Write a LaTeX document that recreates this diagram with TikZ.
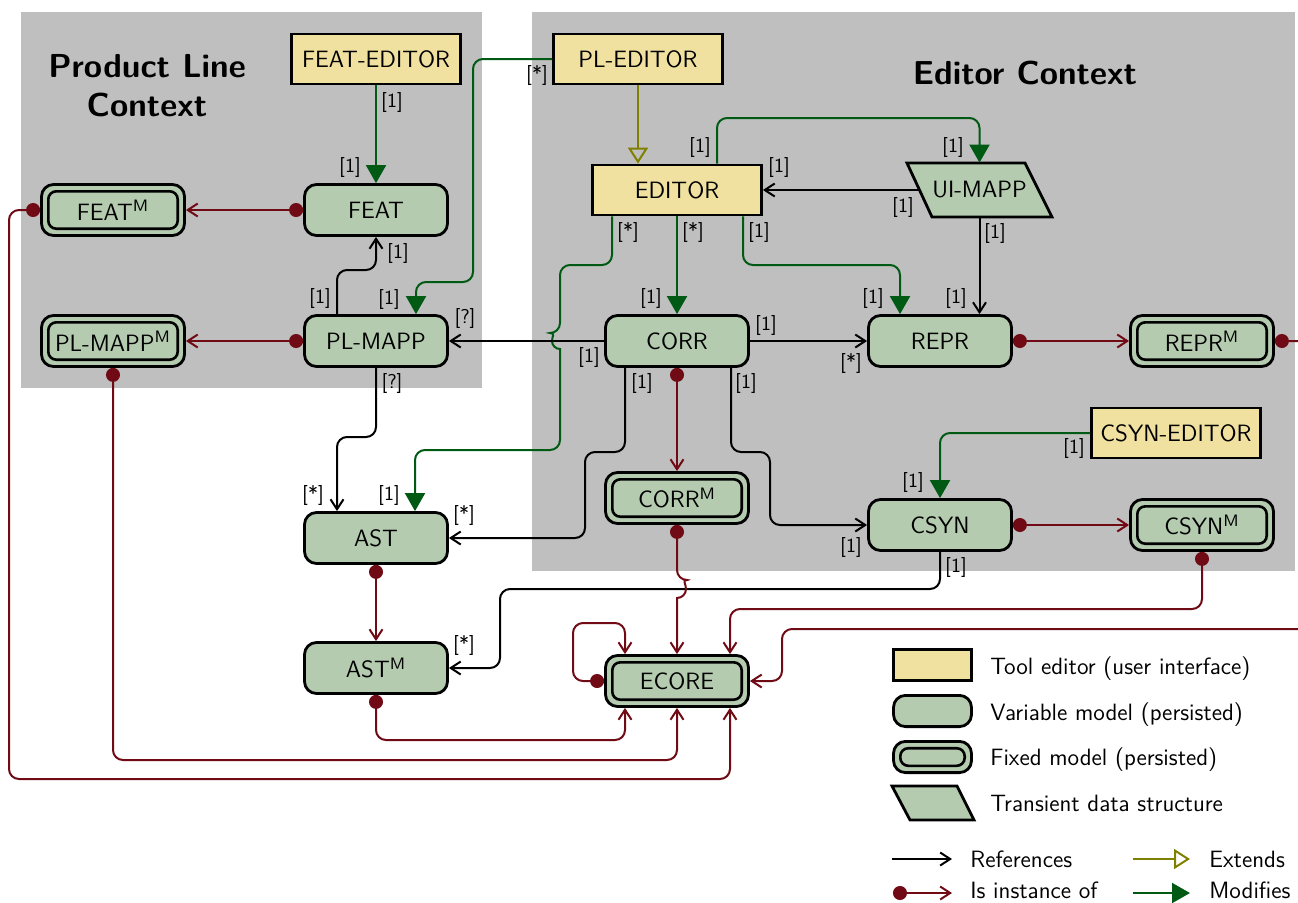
\documentclass[tikz,border=0pt]{standalone}
\usetikzlibrary{arrows.meta,calc}
\definecolor{edfill}{RGB}{240,225,160}
\definecolor{mdfill}{RGB}{180,203,176}
\definecolor{ctxgray}{RGB}{191,191,191}
\definecolor{instred}{RGB}{112,10,20}
\definecolor{modgreen}{RGB}{0,90,20}
\definecolor{extolive}{RGB}{128,128,0}
\tikzset{
  editor/.style={draw, line width=1.4pt, fill=edfill, minimum width=84.5pt, minimum height=25pt, inner sep=0pt},
  model/.style={draw, line width=1.4pt, fill=mdfill, rounded corners=6pt, minimum width=71.5pt, minimum height=25.5pt, inner sep=0pt},
  fixedm/.style={model, path picture={\draw[line width=1.3pt, rounded corners=4pt]
      ([shift={(3.4pt,3.4pt)}]path picture bounding box.south west) rectangle
      ([shift={(-3.4pt,-3.4pt)}]path picture bounding box.north east);}},
  transient/.style={draw, line width=1.4pt, fill=mdfill},
  lbl/.style={font=\sffamily\fontsize{10}{12}\selectfont, inner sep=0pt},
  ctxtitle/.style={font=\sffamily\bfseries\fontsize{16.6}{19.5}\selectfont, align=center, inner sep=0pt},
  lgtext/.style={anchor=base west, inner sep=0pt},
  ref/.style={draw=black, line width=1pt, rounded corners=5pt, -{Straight Barb[length=5pt,width=6.5pt]}},
  inst/.style={draw=instred, line width=1pt, rounded corners=5pt, {Circle[length=7pt]}-{Straight Barb[length=5pt,width=6.5pt]}},
  modif/.style={draw=modgreen, line width=1pt, rounded corners=5pt, -{Triangle[length=9pt,width=10pt]}},
  ext/.style={draw=extolive, line width=1pt, -{Triangle[open,length=8pt,width=10pt]}},
}
\begin{document}
\begin{tikzpicture}[x=0.5pt, y=-0.5pt, font=\sffamily\fontsize{11.8}{14}\selectfont]
\useasboundingbox (0,0) rectangle (1298,902);

% context areas
\fill[ctxgray] (21,12) rectangle (482,388);
\fill[ctxgray] (532,12) rectangle (1295,571);
\node[ctxtitle] (plctx) at (147,86) {Product Line\\Context};
\node[ctxtitle] (edctx) at (1025,73) {Editor Context};

% tool editors
\node[editor] (feated) at (376,59) {FEAT-EDITOR};
\node[editor] (pled) at (638,59) {PL-EDITOR};
\node[editor] (editor) at (677,190) {EDITOR};
\node[editor] (csyned) at (1176,433) {CSYN-EDITOR};

% models
\node[model] (feat) at (376,210) {FEAT};
\node[fixedm] (featm) at (113,210) {FEAT\textsuperscript{M}};
\node[model] (plmapp) at (376,341) {PL-MAPP};
\node[fixedm] (plmappm) at (113,341) {PL-MAPP\textsuperscript{M}};
\node[model] (corr) at (677,341) {CORR};
\node[model] (repr) at (940,341) {REPR};
\node[fixedm] (reprm) at (1202,341) {REPR\textsuperscript{M}};
\node[model] (ast) at (376,538) {AST};
\node[fixedm] (corrm) at (677,498) {CORR\textsuperscript{M}};
\node[model] (csyn) at (940,525) {CSYN};
\node[fixedm] (csynm) at (1202,525) {CSYN\textsuperscript{M}};
\node[model] (astm) at (376,668) {AST\textsuperscript{M}};
\node[fixedm] (ecore) at (677,681) {ECORE};

% transient data structure
\filldraw[transient] (907,163) -- (1025,163) -- (1052,217) -- (932,217) -- cycle;
\node[inner sep=0pt, minimum width=60pt, minimum height=27pt] (uimapp) at (979.5,190) {UI-MAPP};

% extends
\draw[ext] (pled.south) -- ([xshift=-19.5pt]editor.north);

% modifies
\draw[modif] (feated.south) -- (feat.north);
\draw[modif] (pled.west) -- (473,59) -- (473,282) -- (416,282) -- ([xshift=20pt]plmapp.north);
\draw[modif] (editor.south) -- (corr.north);
\draw[modif] ([xshift=-32.5pt]editor.south) -- (612,265) -- (560,265) -- (560,333)
  [sharp corners] arc[start angle=270, end angle=90, radius=8]
  [rounded corners=5pt] -- (560,450) -- (415,450) -- ([xshift=19.5pt]ast.north);
\draw[modif] ([xshift=33pt]editor.south) -- (743,265) -- (900,265) -- ([xshift=-20pt]repr.north);
\draw[modif] ([xshift=20pt]editor.north) -- (717,118) -- (979.5,118) -- (uimapp.north);
\draw[modif] (csyned.west) -- (940,433) -- (csyn.north);

% references
\draw[ref] ([xshift=-19.5pt]plmapp.north) -- (337,270) -- (376,270) -- (feat.south);
\draw[ref] (corr.west) -- (plmapp.east);
\draw[ref] (uimapp.west) -- (editor.east);
\draw[ref] (uimapp.south) -- (uimapp.south |- repr.north);
\draw[ref] (corr.east) -- (repr.west);
\draw[ref] (plmapp.south) -- (376,437) -- (337,437) -- ([xshift=-19.5pt]ast.north);
\draw[ref] ([xshift=-26pt]corr.south) -- (625,452) -- (585,452) -- (585,538) -- (ast.east);
\draw[ref] ([xshift=27pt]corr.south) -- (731,452) -- (770,452) -- (770,525) -- (csyn.west);
\draw[ref] (csyn.south) -- (940,589) -- (500,589) -- (500,668) -- (astm.east);

% instance of
\draw[inst] (feat.west) -- (featm.east);
\draw[inst] (plmapp.west) -- (plmappm.east);
\draw[inst] (repr.east) -- (reprm.west);
\draw[inst] (csyn.east) -- (csynm.west);
\draw[inst] (corr.south) -- (corrm.north);
\draw[inst] (ast.south) -- (astm.north);
\draw[inst] (corrm.south) -- (677,580) [sharp corners] arc[start angle=-90, end angle=90, radius=9] -- (ecore.north);
\draw[inst] (ecore.west) -- (573,681) -- (573,623) -- (625,623) -- ([xshift=-26pt]ecore.north);
\draw[inst] (csynm.south) -- (1202,609) -- (730,609) -- ([xshift=26.5pt]ecore.north);
\draw[inst] (reprm.east) -- (1312,341) -- (1312,629) -- (782,629) -- (782,681) -- (ecore.east);
\draw[inst] (astm.south) -- (376,740) -- (625,740) -- ([xshift=-26pt]ecore.south);
\draw[inst] (plmappm.south) -- (113,760) -- (677,760) -- (ecore.south);
\draw[inst] (featm.west) -- (9,210) -- (9,779) -- (730,779) -- ([xshift=26.5pt]ecore.south);

% multiplicities
\node[lbl] (m1) at (392,102) {[1]};
\node[lbl] (m2) at (350,167) {[1]};
\node[lbl] (m3) at (537,75) {[*]};
\node[lbl] (m4) at (389,299) {[1]};
\node[lbl] (m5) at (320,298) {[1]};
\node[lbl] (m6) at (398,253) {[1]};
\node[lbl] (m7) at (589,357) {[1]};
\node[lbl] (m8) at (465,318) {[?]};
\node[lbl] (m9) at (693,232) {[*]};
\node[lbl] (m10) at (651,298) {[1]};
\node[lbl] (m11) at (628,232) {[*]};
\node[lbl] (m12) at (389,495) {[1]};
\node[lbl] (m13) at (759,232) {[1]};
\node[lbl] (m14) at (873,298) {[1]};
\node[lbl] (m15) at (700,147) {[1]};
\node[lbl] (m16) at (953,147) {[1]};
\node[lbl] (m17) at (903,207) {[1]};
\node[lbl] (m18) at (779,167) {[1]};
\node[lbl] (m19) at (995,233) {[1]};
\node[lbl] (m20) at (956,298) {[1]};
\node[lbl] (m21) at (766,325) {[1]};
\node[lbl] (m22) at (851,363) {[*]};
\node[lbl] (m23) at (642,383) {[1]};
\node[lbl] (m24) at (464,515) {[*]};
\node[lbl] (m25) at (746,383) {[1]};
\node[lbl] (m26) at (851,547) {[1]};
\node[lbl] (m27) at (392,383) {[?]};
\node[lbl] (m28) at (313,495) {[*]};
\node[lbl] (m29) at (1074,448) {[1]};
\node[lbl] (m30) at (913,482) {[1]};
\node[lbl] (m31) at (956,567) {[1]};
\node[lbl] (m32) at (464,645) {[*]};

% legend
\node[editor, minimum width=39pt, minimum height=15.6pt] (lged) at (932.5,665) {};
\node[model, minimum width=39pt, minimum height=15.6pt] (lgmd) at (932.5,711) {};
\node[fixedm, minimum width=39pt, minimum height=15.6pt] (lgfx) at (932.5,757) {};
\filldraw[transient] (892,786) -- (957,786) -- (974,820) -- (910,820) -- cycle;
\node[lgtext] (lgedt) at (990,674) {Tool editor (user interface)};
\node[lgtext] (lgmdt) at (990,720) {Variable model (persisted)};
\node[lgtext] (lgfxt) at (990,765) {Fixed model (persisted)};
\node[lgtext] (lgtrt) at (990,811) {Transient data structure};
\coordinate (lra) at (892,859); \coordinate (lrb) at (952,859);
\coordinate (lia) at (893,893); \coordinate (lib) at (952,893);
\coordinate (lea) at (1133,859); \coordinate (leb) at (1190,859);
\coordinate (lma) at (1133,893); \coordinate (lmb) at (1190,893);
\draw[ref] (lra) -- (lrb);
\draw[inst] (lia) -- (lib);
\draw[ext] (lea) -- (leb);
\draw[modif] (lma) -- (lmb);
\node[lgtext] (lgrt) at (970,867) {References};
\node[lgtext] (lgit) at (970,898) {Is instance of};
\node[lgtext] (lget) at (1209,867) {Extends};
\node[lgtext] (lgmt) at (1209,898) {Modifies};
\end{tikzpicture}
\end{document}
